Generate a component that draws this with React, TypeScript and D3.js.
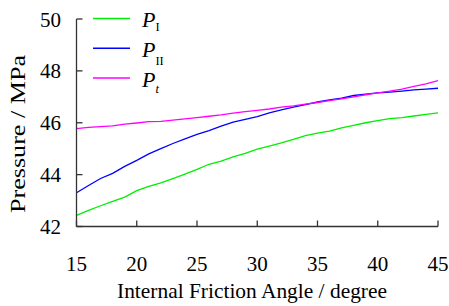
import React from 'react';
import * as d3 from 'd3';

const angles = d3.range(15, 46);

const pI = [
  42.43, 42.62, 42.8, 42.97, 43.13, 43.38, 43.55, 43.68, 43.85, 44.02, 44.2,
  44.4, 44.52, 44.68, 44.82, 44.98, 45.1, 45.22, 45.36, 45.5, 45.6,
  45.68, 45.8, 45.9, 46.0, 46.08, 46.16, 46.2, 46.26, 46.32, 46.38,
];

const pII = [
  43.3, 43.58, 43.85, 44.05, 44.32, 44.55, 44.8, 45.0, 45.2, 45.38, 45.55,
  45.7, 45.87, 46.02, 46.13, 46.24, 46.38, 46.5, 46.6, 46.7, 46.8,
  46.88, 46.95, 47.05, 47.1, 47.15, 47.18, 47.22, 47.27, 47.3, 47.33,
];

const pt = [
  45.77, 45.82, 45.85, 45.88, 45.95, 45.99, 46.04, 46.05, 46.1, 46.15, 46.2,
  46.25, 46.3, 46.37, 46.43, 46.48, 46.53, 46.6, 46.65, 46.72, 46.78,
  46.85, 46.92, 47.0, 47.08, 47.15, 47.22, 47.3, 47.4, 47.5, 47.62,
];

const xTicks = [15, 20, 25, 30, 35, 40, 45];
const yTicks = [42, 44, 46, 48, 50];

const seriesNames = [
  { main: 'P', sub: 'I', italicSub: false },
  { main: 'P', sub: 'II', italicSub: false },
  { main: 'P', sub: 't', italicSub: true },
];
const seriesColors = ['#00ee00', '#0000ff', '#ff00ff'];

// subscript baseline offsets, as drawn in the original
const subDy = [3.5, 8, 6.5];

const FONT = 'Liberation Serif';

const left = 76.5, right = 438, top = 19, bottom = 226.5;
const x = d3.scaleLinear().domain([15, 45]).range([left, right]);
const y = d3.scaleLinear().domain([42, 50]).range([bottom, top]);
const legendY = d3.scaleLinear().domain([0, 2]).range([18.5, 78]);
const axisColor = '#333';

const line = d3.line<number>()
  .x((_, j) => x(angles[j]))
  .y(d => y(d));

const App = () => {
  const series = [pI, pII, pt];
  return (
    <svg width={449} height={306} fontFamily={FONT}
      style={{ position: 'absolute', left: 0, top: 0, background: '#fff' }}>
      {series.map((vals, i) => (
        <path key={i} d={line(vals) ?? ''} fill="none" stroke={seriesColors[i]} strokeWidth={1.3} />
      ))}

      {/* axes */}
      <line x1={left} x2={left} y1={top} y2={bottom} stroke={axisColor} strokeWidth={1.3} />
      <line x1={left} x2={right} y1={bottom} y2={bottom} stroke={axisColor} strokeWidth={1.3} />
      {yTicks.map(t => (
        <g key={t}>
          <line x1={left} x2={left + 6} y1={y(t)} y2={y(t)} stroke={axisColor} strokeWidth={1.3} />
          <text x={61} y={y(t) + 7.5} textAnchor="end" fontSize={21}>{t}</text>
        </g>
      ))}
      {xTicks.map(t => (
        <g key={t}>
          <line x1={x(t)} x2={x(t)} y1={bottom} y2={bottom - 6} stroke={axisColor} strokeWidth={1.3} />
          <text x={x(t)} y={271} textAnchor="middle" fontSize={21}>{t}</text>
        </g>
      ))}

      {/* axis titles */}
      <text x={252} y={298} textAnchor="middle" fontSize={22}
        textLength={270} lengthAdjust="spacingAndGlyphs">
        Internal Friction Angle / degree
      </text>
      <text transform="translate(25,134) rotate(-90)" textAnchor="middle" fontSize={21}
        textLength={158} lengthAdjust="spacingAndGlyphs">
        Pressure / MPa
      </text>

      {/* legend */}
      {seriesNames.map((s, i) => {
        const ly = legendY(i);
        return (
          <g key={i}>
            <line x1={93} x2={130} y1={ly} y2={ly} stroke={seriesColors[i]} strokeWidth={1.3} />
            <text x={142} y={ly + 8.5} fontSize={22}>
              <tspan fontStyle="italic">{s.main}</tspan>
              <tspan dx={0} dy={subDy[i]} fontSize={12.5} fontStyle={s.italicSub ? 'italic' : 'normal'}>{s.sub}</tspan>
            </text>
          </g>
        );
      })}
    </svg>
  );
};

export default App;
